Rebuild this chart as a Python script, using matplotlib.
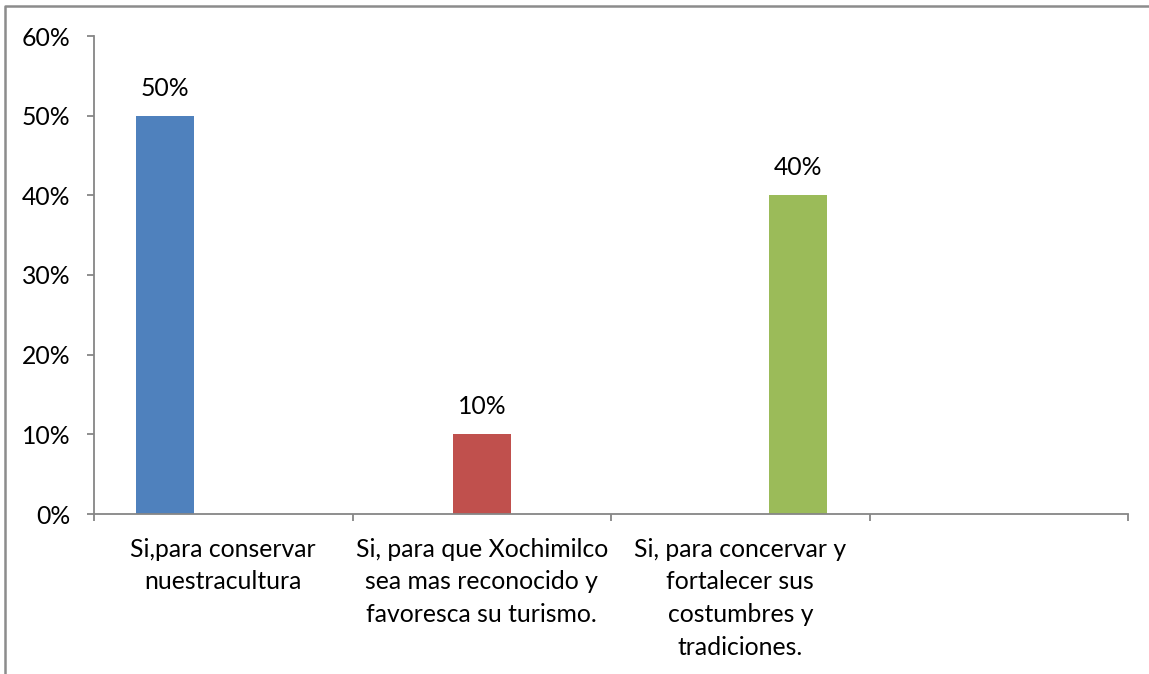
import numpy as np
import matplotlib.pyplot as plt
from matplotlib.lines import Line2D

plt.rcParams['font.family'] = ['Lato', 'DejaVu Sans']

categories = ['Si,para conservar\nnuestracultura',
              'Si, para que Xochimilco\nsea mas reconocido y\nfavoresca su turismo.',
              'Si, para concervar y\nfortalecer sus\ncostumbres y\ntradiciones.',
              '']
values = [50, 10, 40]          # one series per answer, percent
colors = ['#4F81BD', '#C0504D', '#9BBB59']
yticks = [0, 10, 20, 30, 40, 50, 60]

fs = 17.8

fig = plt.figure(figsize=(11.49, 6.74), dpi=100)
ax = fig.add_axes([94/1149, 1-514/674, 1034/1149, 478/674])

w = 0.224
for i, (v, c) in enumerate(zip(values, colors)):
    x = i + (i - 1) * w
    ax.bar(x, v, width=w, color=c)
    ax.text(x, v + 2.0, '{0}%'.format(v), ha='center', va='bottom', fontsize=fs)

ax.set_xlim(-0.5, len(categories) - 0.5)
ax.set_ylim(0, 60)
ax.set_yticks(yticks)
ax.set_yticklabels(['{0}%'.format(t) for t in yticks], fontsize=fs)
ax.set_xticks(np.arange(len(categories) + 1) - 0.5)
ax.set_xticklabels([])
for i, lab in enumerate(categories):
    ax.annotate(lab, xy=(i, 0), xycoords=('data', 'axes fraction'),
                xytext=(0, -17), textcoords='offset points',
                ha='center', va='top', fontsize=fs, linespacing=1.52)

gray = '#868686'
for s in ['top', 'right']:
    ax.spines[s].set_visible(False)
for s in ['left', 'bottom']:
    ax.spines[s].set_color(gray)
    ax.spines[s].set_linewidth(1.3)
ax.tick_params(axis='both', which='major', color=gray, width=1.3, length=5,
               pad=12)

# outer chart border
fig.add_artist(Line2D([5/1149, 5/1149, 1.0], [0, 1-5.5/674, 1-5.5/674],
                      color='#8c8c8c', lw=1.8, transform=fig.transFigure))

fig.savefig('out.png', dpi=100)
